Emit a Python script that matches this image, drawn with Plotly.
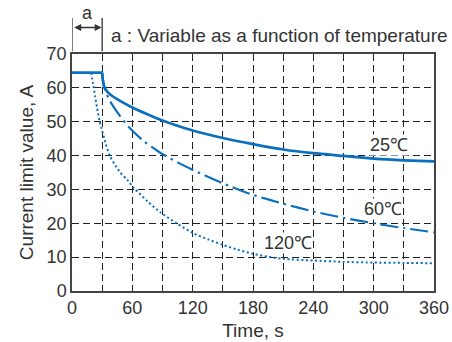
import plotly.graph_objects as go

# initial constant segment shared by all curves
t_flat = [0, 30]
v_flat = [64.5, 64.5]

# 25 °C
t25 = [30, 30.6, 32.5, 36, 40, 50, 60, 75, 88, 105, 120, 150, 180, 210, 240, 270, 300, 330, 360]
v25 = [64.5, 62.5, 60.0, 58.6, 57.6, 55.8, 54.2, 52.2, 50.6, 48.8, 47.4, 45.2, 43.4, 41.8, 40.7, 39.9, 39.1, 38.6, 38.3]

# 60 °C
t60 = [30, 31.5, 34, 38, 48, 56, 70, 80, 90, 105, 120, 150, 180, 210, 240, 270, 300, 330, 360]
v60 = [64.5, 61.0, 58.5, 56.0, 51.6, 48.6, 44.6, 42.4, 40.4, 38.0, 35.8, 31.8, 28.4, 25.8, 23.5, 21.6, 20.0, 18.6, 17.3]

# 120 °C
t120 = [19, 21, 23, 25, 27.5, 30, 33, 37.5, 42, 48, 55, 62, 75, 88, 104, 121, 135, 150, 165, 180, 195, 210, 240, 270, 300, 330, 360]
v120 = [64.5, 61.0, 57.5, 54.0, 50.0, 47.3, 44.0, 40.0, 37.6, 35.0, 32.8, 30.3, 26.5, 23.2, 20.0, 17.0, 15.3, 13.6, 12.2, 11.0, 10.1, 9.5, 9.0, 8.6, 8.4, 8.3, 8.2]

x_ticks = [0, 60, 120, 180, 240, 300, 360]
x_minor = [30, 90, 150, 210, 270, 330]
y_ticks = [0, 10, 20, 30, 40, 50, 60, 70]

labels = ["25℃", "60℃", "120℃"]
label_pos = [(315.5, 43.0), (309, 24.3), (215, 14.2)]

blue = "#0a6fbf"
font = "Liberation Sans, Arial, sans-serif"
grey = "#333333"

fig = go.Figure()
fig.add_trace(go.Scatter(x=t120, y=v120, mode="lines",
                         line=dict(color=blue, width=2, dash="2px,2.6px", shape="spline", smoothing=0.6)))
fig.add_trace(go.Scatter(x=t60, y=v60, mode="lines",
                         line=dict(color=blue, width=2.1, dash="18px,5px,2.5px,5px", shape="spline", smoothing=0.6)))
fig.add_trace(go.Scatter(x=t25, y=v25, mode="lines",
                         line=dict(color=blue, width=2.7, shape="spline", smoothing=0.6)))
fig.add_trace(go.Scatter(x=t_flat, y=v_flat, mode="lines", line=dict(color=blue, width=2.7)))

annotations = []
for txt, (xx, yy) in zip(labels, label_pos):
    annotations.append(dict(x=xx, y=yy, xref="x", yref="y", text=txt, showarrow=False,
                            xanchor="center", yanchor="middle",
                            font=dict(family=font, size=18, color=grey), bgcolor="white", borderpad=0))

annotations.append(dict(x=15, y=1.175, xref="x", yref="paper", text="a", showarrow=False,
                        xanchor="center", yanchor="middle",
                        font=dict(family=font, size=18, color=grey)))
annotations.append(dict(x=37, y=1.08, xref="x", yref="paper", text="a : Variable as a function of temperature",
                        showarrow=False, xanchor="left", yanchor="middle",
                        font=dict(family=font, size=19, color=grey)))
annotations.append(dict(x=29.5, y=1.112, xref="x", yref="paper", ax=-29, ay=0, axref="pixel", ayref="pixel",
                        text="", showarrow=True, arrowhead=2, startarrowhead=2, arrowside="end+start",
                        arrowsize=1, arrowwidth=1.4, arrowcolor=grey, standoff=0, startstandoff=0))

shapes = []
for xv in [0, 30]:
    shapes.append(dict(type="line", xref="x", yref="paper", x0=xv, x1=xv, y0=1.012, y1=1.152,
                       line=dict(color=grey, width=1.3)))

fig.update_layout(
    width=452, height=342,
    margin=dict(l=72, r=18, t=54, b=51),
    paper_bgcolor="white", plot_bgcolor="white",
    showlegend=False,
    annotations=annotations,
    shapes=shapes,
    font=dict(family=font, size=18, color=grey),
)
fig.update_xaxes(range=[0, 360], tickvals=x_ticks, showgrid=True, gridcolor="#222", griddash="7px,4px",
                 gridwidth=1, zeroline=False, showline=True, linecolor="#444", linewidth=1.5,
                 mirror=True, ticks="", automargin=False,
                 title=dict(text="Time, s", font=dict(size=19), standoff=6),
                 tickfont=dict(size=18),
                 minor=dict(tickvals=x_minor, showgrid=True, gridcolor="#222", griddash="7px,4px", gridwidth=1))
fig.update_yaxes(range=[0, 70], tickvals=y_ticks, showgrid=True, gridcolor="#222", griddash="7px,4px",
                 gridwidth=1, zeroline=False, showline=True, linecolor="#444", linewidth=1.5,
                 mirror=True, ticks="", automargin=False,
                 title=dict(text="Current limit value, A", font=dict(size=19), standoff=8),
                 tickfont=dict(size=18))

fig.write_html("out.html")
